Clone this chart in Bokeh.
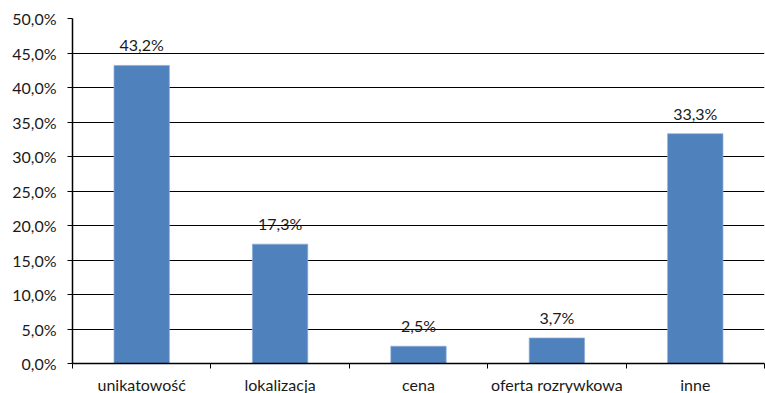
from bokeh.plotting import figure
from bokeh.models import ColumnDataSource, FixedTicker, Range1d, LabelSet
from bokeh.core.properties import value
from bokeh.embed import file_html
from bokeh.resources import INLINE

categories = ["unikatowość", "lokalizacja", "cena", "oferta rozrywkowa", "inne"]
values = [43.2, 17.3, 2.5, 3.7, 33.3]
y_ticks = [0, 5, 10, 15, 20, 25, 30, 35, 40, 45, 50]

def pl(v):
    return f"{v:.1f}".replace(".", ",") + "%"

FONT = "Lato"
FS = "16px"
TXT = "#1a1a1a"
centers = [i + 0.5 for i in range(len(categories))]
src = ColumnDataSource(dict(x=centers, top=values, label=[pl(v) for v in values]))

p = figure(width=765, height=393, output_backend="svg", toolbar_location=None,
           x_range=Range1d(0, len(categories)), y_range=Range1d(0, 50),
           frame_width=692, frame_height=345,
           min_border_left=72, min_border_right=1, min_border_top=18, min_border_bottom=30)
p.outline_line_color = None
p.background_fill_color = "white"
p.border_fill_color = "white"

p.vbar(x="x", top="top", width=0.4, source=src, fill_color="#4F81BD", line_color="#8EAAD6", line_width=0.7)

labels = LabelSet(x="x", y="top", text="label", source=src, text_align="center",
                  text_baseline="alphabetic", y_offset=14, text_font=value(FONT),
                  text_font_size=value(FS), text_color=TXT)
p.add_layout(labels)

# y axis
p.yaxis.ticker = FixedTicker(ticks=y_ticks)
p.yaxis.major_label_overrides = {t: pl(t) for t in y_ticks}
p.yaxis.major_label_text_font = FONT
p.yaxis.major_label_text_font_size = FS
p.yaxis.major_label_text_color = TXT
p.yaxis.axis_line_color = "black"
p.yaxis.axis_line_width = 1.5
p.yaxis.major_tick_line_color = "black"
p.yaxis.major_tick_out = 5
p.yaxis.major_tick_in = 0
p.yaxis.minor_tick_line_color = None
p.yaxis.major_label_standoff = 11

# x axis
p.xaxis.ticker = FixedTicker(ticks=centers, minor_ticks=list(range(len(categories) + 1)))
p.xaxis.major_label_overrides = {c: cat for c, cat in zip(centers, categories)}
p.xaxis.major_label_text_font = FONT
p.xaxis.major_label_text_font_size = FS
p.xaxis.major_label_text_color = TXT
p.xaxis.axis_line_color = "black"
p.xaxis.axis_line_width = 1.5
p.xaxis.major_tick_line_color = None
p.xaxis.minor_tick_line_color = "black"
p.xaxis.minor_tick_out = 5
p.xaxis.minor_tick_in = 0
p.xaxis.major_label_standoff = 5

p.xgrid.grid_line_color = None
p.ygrid.ticker = FixedTicker(ticks=y_ticks)
p.ygrid.grid_line_color = "black"
p.ygrid.grid_line_width = 1.2
p.ygrid.level = "underlay"

open("out.html", "w").write(file_html(p, INLINE))
